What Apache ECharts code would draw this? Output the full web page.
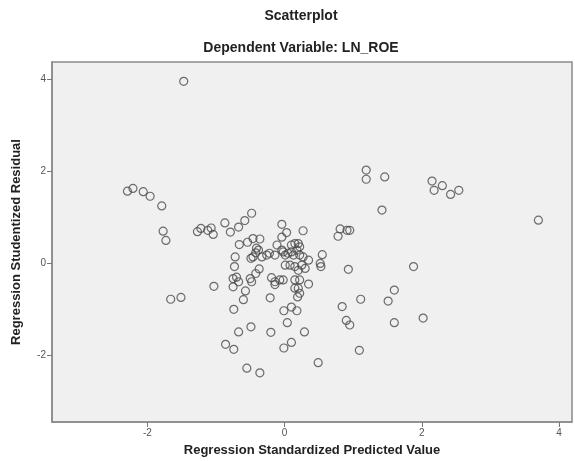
<!DOCTYPE html>
<html>
<head>
<meta charset="utf-8">
<script src="https://cdn.jsdelivr.net/npm/echarts@6/dist/echarts.min.js"></script>
<style>
  html, body { margin: 0; padding: 0; background: #fff; }
  #chart { width: 575px; height: 461px; }
</style>
</head>
<body>
<div id="chart"></div>
<script>
// regression standardized predicted value (x) / studentized residual (y)
const predicted = [
  -1.47, -2.29, -2.21, -2.06, -1.96, -1.79, -1.77, -1.73, -1.27, -1.22,
  -1.12, -1.07, -1.04, -1.03, -1.66, -1.51, -0.86, -0.87, -0.48, -0.79,
  -0.67, -0.58, -0.04, 0.03, -0.04, 0.27, -0.66, -0.54, -0.46, -0.36,
  -0.72, -0.73, -0.41, -0.38, -0.42, -0.46, -0.49, -0.33, -0.26, -0.22,
  -0.14, -0.11, -0.04, -0.02, 0.01, 0.05, 0.10, 0.10, 0.15, 0.20,
  0.22, 0.18, 0.13, 0.22, 0.27, 0.35, 0.01, 0.08, 0.15, 0.20,
  0.25, 0.30, 0.55, 0.52, 0.53, -0.75, -0.70, -0.75, -0.67, -0.50,
  -0.48, -0.42, -0.37, -0.19, -0.14, -0.07, -0.02, 0.15, 0.22, 0.20,
  0.15, 0.22, 0.35, -0.57, -0.21, -0.60, -0.74, -0.01, 0.10, 0.18,
  0.04, 0.29, -0.49, -0.67, -0.20, -0.74, -0.01, 0.10, 0.49, -0.55,
  -0.36, 1.19, 1.19, 1.46, 2.15, 2.30, 2.18, 2.42, 2.54, 1.42,
  3.70, 0.81, 0.91, 0.95, 0.78, 0.93, 1.88, 1.60, 1.51, 1.11,
  0.84, 0.90, 0.95, 1.60, 2.02, 1.09, -0.14, 0.19
];
const residuals = [
  3.96, 1.57, 1.63, 1.56, 1.46, 1.25, 0.70, 0.50, 0.69, 0.76,
  0.72, 0.77, 0.63, -0.50, -0.78, -0.74, -1.76, 0.88, 1.09, 0.68,
  0.79, 0.93, 0.85, 0.67, 0.57, 0.71, 0.41, 0.46, 0.54, 0.53,
  0.14, -0.07, 0.33, 0.29, 0.23, 0.14, 0.11, 0.14, 0.18, 0.22,
  0.18, 0.40, 0.29, 0.25, 0.18, 0.22, 0.25, 0.40, 0.43, 0.43,
  0.36, 0.29, 0.18, 0.18, 0.14, 0.07, -0.04, -0.04, -0.07, -0.15,
  -0.04, -0.11, 0.19, 0.00, -0.07, -0.33, -0.30, -0.51, -0.40, -0.33,
  -0.40, -0.22, -0.12, -0.31, -0.40, -0.36, -0.36, -0.36, -0.36, -0.54,
  -0.54, -0.65, -0.45, -0.60, -0.75, -0.79, -1.00, -1.03, -0.95, -1.03,
  -1.29, -1.49, -1.38, -1.49, -1.50, -1.87, -1.84, -1.72, -2.16, -2.28,
  -2.38, 2.03, 1.83, 1.88, 1.79, 1.69, 1.59, 1.50, 1.59, 1.16,
  0.94, 0.75, 0.72, 0.72, 0.59, -0.13, -0.07, -0.58, -0.82, -0.78,
  -0.94, -1.24, -1.34, -1.29, -1.19, -1.89, -0.46, -0.73
];
const xTicks = [-2, 0, 2, 4];
const yTicks = [-2, 0, 2, 4];

const chart = echarts.init(document.getElementById('chart'));
const font = 'Liberation Sans, Arial, sans-serif';

chart.setOption({
  animation: false,
  title: [
    {
      text: 'Scatterplot',
      left: 296, top: 4, textAlign: 'center',
      textStyle: { fontFamily: font, fontSize: 14, fontWeight: 'bold', color: '#222' },
    },
    {
      text: 'Dependent Variable: LN_ROE',
      left: 296, top: 36, textAlign: 'center',
      textStyle: { fontFamily: font, fontSize: 14, fontWeight: 'bold', color: '#222' },
    },
  ],
  grid: {
    left: 52, right: 3, top: 62, bottom: 39,
    outerBoundsMode: 'none',
    show: true, backgroundColor: '#f0f0f0', borderColor: '#8a8a8a', borderWidth: 1.5,
  },
  xAxis: {
    type: 'value',
    min: -3.39, max: 4.19,
    name: 'Regression Standardized Predicted Value',
    nameLocation: 'middle', nameGap: 22,
    nameTextStyle: { fontFamily: font, fontSize: 13, fontWeight: 'bold', color: '#222' },
    axisLine: { show: true, onZero: false, lineStyle: { color: '#8a8a8a', width: 1.5 } },
    axisTick: { show: true, length: 5, customValues: xTicks, lineStyle: { color: '#777' } },
    axisLabel: { customValues: xTicks, fontFamily: font, fontSize: 10, color: '#555', margin: 6 },
    splitLine: { show: false },
  },
  yAxis: {
    type: 'value',
    min: -3.45, max: 4.38,
    name: 'Regression Studentized Residual',
    nameLocation: 'middle', nameGap: 29, nameRotate: 90,
    nameTextStyle: { fontFamily: font, fontSize: 13, fontWeight: 'bold', color: '#222' },
    axisLine: { show: true, onZero: false, lineStyle: { color: '#8a8a8a', width: 1.5 } },
    axisTick: { show: true, length: 5, customValues: yTicks, lineStyle: { color: '#777' } },
    axisLabel: { customValues: yTicks, fontFamily: font, fontSize: 10, color: '#555', margin: 6 },
    splitLine: { show: false },
  },
  series: [
    {
      type: 'scatter',
      symbol: 'circle',
      symbolSize: 8,
      itemStyle: { color: 'rgba(0,0,0,0)', borderColor: '#4a4a4a', borderWidth: 1.2 },
      data: predicted.map((x, i) => [x, residuals[i]]),
    },
  ],
});
</script>
</body>
</html>
